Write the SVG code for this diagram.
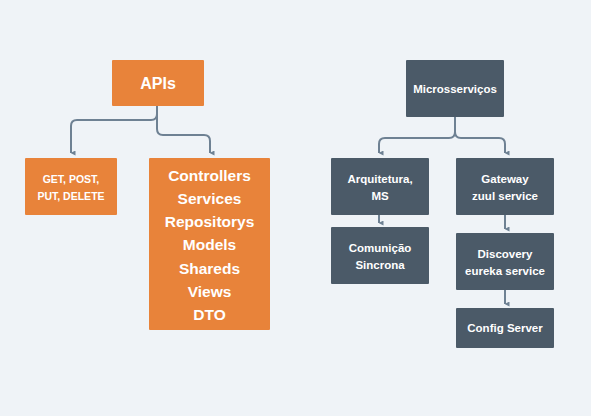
<svg xmlns="http://www.w3.org/2000/svg" width="591" height="416" viewBox="0 0 591 416">
<defs>
<marker id="ah" viewBox="0 0 10 10" refX="5" refY="9" markerWidth="5" markerHeight="5" orient="auto-start-reverse" markerUnits="userSpaceOnUse">
<path d="M0,0 L10,0 L5,10 Z" fill="#6E8193"/>
</marker>
<style>
.o{fill:#E8833A}
.d{fill:#4B5A68}
.t{font-family:"Liberation Sans",Arial,sans-serif;font-weight:bold;fill:#FFFFFF;text-anchor:middle}
.c{fill:none;stroke:#6E8193;stroke-width:2}
</style>
</defs>
<rect width="591" height="416" fill="#EFF3F7"/>
<g id="connectors">
<path class="c" d="M157,106 V114 Q157,120 151,120 H77 Q71,120 71,126 V153" marker-end="url(#ah)"/>
<path class="c" d="M157,114 V129 Q157,135 163,135 H204 Q210,135 210,141 V153" marker-end="url(#ah)"/>
<path class="c" d="M455,117 V132 Q455,138 449,138 H385 Q379,138 379,144 V153" marker-end="url(#ah)"/>
<path class="c" d="M455,132 Q455,138 461,138 H499 Q505,138 505,144 V153" marker-end="url(#ah)"/>
<path class="c" d="M379,215 V223" marker-end="url(#ah)"/>
<path class="c" d="M505,215 V229" marker-end="url(#ah)"/>
<path class="c" d="M505,290 V304" marker-end="url(#ah)"/>
</g>
<g id="apis"><rect class="o" x="112" y="60" width="92" height="46" rx="1"/><text class="t" x="158" y="89" font-size="16">APIs</text></g>
<g id="get"><rect class="o" x="25" y="158" width="92" height="57" rx="1"/><text class="t" x="71" y="183" font-size="10.5">GET, POST,</text><text class="t" x="71" y="200" font-size="10.5">PUT, DELETE</text></g>
<g id="layers"><rect class="o" x="149" y="158" width="121" height="172" rx="1"/>
<text class="t" font-size="15.5" x="209.5"><tspan x="209.5" y="181">Controllers</tspan><tspan x="209.5" y="204">Services</tspan><tspan x="209.5" y="227">Repositorys</tspan><tspan x="209.5" y="250">Models</tspan><tspan x="209.5" y="274">Shareds</tspan><tspan x="209.5" y="297">Views</tspan><tspan x="209.5" y="320">DTO</tspan></text></g>
<g id="micro"><rect class="d" x="406" y="60" width="98" height="57" rx="1"/><text class="t" x="455" y="93" font-size="11.5">Microsserviços</text></g>
<g id="arq"><rect class="d" x="331" y="158" width="98" height="57" rx="1"/><text class="t" x="380" y="183" font-size="11.5">Arquitetura,</text><text class="t" x="380" y="200" font-size="11.5">MS</text></g>
<g id="gateway"><rect class="d" x="456" y="158" width="98" height="57" rx="1"/><text class="t" x="505" y="183" font-size="11.5">Gateway</text><text class="t" x="505" y="200" font-size="11.5">zuul service</text></g>
<g id="comun"><rect class="d" x="331" y="227" width="98" height="57" rx="1"/><text class="t" x="380" y="252" font-size="11.5">Comunição</text><text class="t" x="380" y="269" font-size="11.5">Sincrona</text></g>
<g id="discovery"><rect class="d" x="456" y="233" width="98" height="57" rx="1"/><text class="t" x="505" y="258" font-size="11.5">Discovery</text><text class="t" x="505" y="275" font-size="11.5">eureka service</text></g>
<g id="config"><rect class="d" x="456" y="308" width="98" height="40" rx="1"/><text class="t" x="505" y="332" font-size="11.5">Config Server</text></g>
</svg>
